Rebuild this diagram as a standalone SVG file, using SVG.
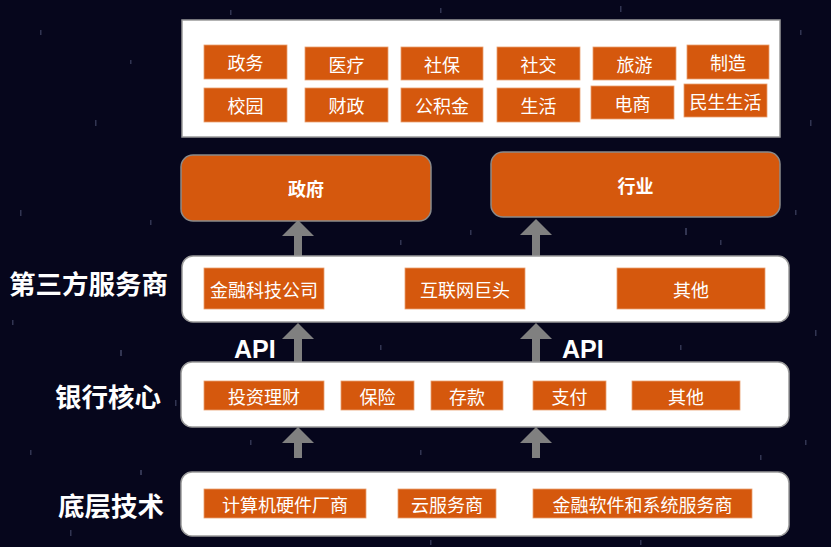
<svg xmlns="http://www.w3.org/2000/svg" width="831" height="547" viewBox="0 0 831 547">
<defs>
<style>
.bg{fill:#06061c}
.star{fill:#8890b8;opacity:.35}
.panel{fill:#ffffff;stroke:#9a9a9a;stroke-width:1.5}
.cell{fill:#D5580D;stroke:#e9a070;stroke-width:0.8}
.big{fill:#D5580D;stroke:#8a8a8a;stroke-width:1.5}
.ct{font-family:"Noto Sans CJK SC","Noto Sans",sans-serif;font-size:18px;fill:#ffffff;text-anchor:middle;dominant-baseline:central}
.bt{font-family:"Noto Sans CJK SC","Noto Sans",sans-serif;font-size:18px;font-weight:bold;fill:#ffffff;text-anchor:middle;dominant-baseline:central}
.lt{font-family:"Noto Sans CJK SC","Noto Sans",sans-serif;font-size:26.5px;font-weight:bold;fill:#ffffff;text-anchor:end;dominant-baseline:central}
.api{font-family:"Liberation Sans",Arial,sans-serif;font-size:25px;font-weight:bold;fill:#ffffff}
.arr{fill:#808080}
</style>
</defs>
<rect class="bg" x="0" y="0" width="831" height="547"/>
<g id="stars">
<rect class="star" x="40" y="30" width="1.5" height="5"/>
<rect class="star" x="95" y="120" width="1.5" height="6"/>
<rect class="star" x="130" y="60" width="1.5" height="4"/>
<rect class="star" x="20" y="210" width="1.5" height="6"/>
<rect class="star" x="150" y="220" width="1.5" height="5"/>
<rect class="star" x="120" y="350" width="2" height="6"/>
<rect class="star" x="12" y="320" width="1.5" height="5"/>
<rect class="star" x="175" y="400" width="1.5" height="6"/>
<rect class="star" x="30" y="450" width="1.5" height="5"/>
<rect class="star" x="140" y="470" width="2" height="5"/>
<rect class="star" x="70" y="530" width="1.5" height="6"/>
<rect class="star" x="230" y="10" width="1.5" height="5"/>
<rect class="star" x="440" y="8" width="1.5" height="5"/>
<rect class="star" x="620" y="6" width="1.5" height="6"/>
<rect class="star" x="800" y="30" width="1.5" height="5"/>
<rect class="star" x="810" y="120" width="1.5" height="6"/>
<rect class="star" x="795" y="210" width="1.5" height="5"/>
<rect class="star" x="685" y="228" width="2" height="7"/>
<rect class="star" x="720" y="240" width="1.5" height="5"/>
<rect class="star" x="400" y="240" width="1.5" height="5"/>
<rect class="star" x="470" y="230" width="1.5" height="5"/>
<rect class="star" x="815" y="330" width="1.5" height="6"/>
<rect class="star" x="805" y="440" width="1.5" height="5"/>
<rect class="star" x="760" y="455" width="1.5" height="5"/>
<rect class="star" x="420" y="450" width="1.5" height="5"/>
<rect class="star" x="380" y="345" width="1.5" height="5"/>
<rect class="star" x="680" y="345" width="1.5" height="5"/>
<rect class="star" x="250" y="440" width="1.5" height="5"/>
<rect class="star" x="430" y="540" width="1.5" height="5"/>
<rect class="star" x="640" y="540" width="1.5" height="5"/>
</g>
<g id="layer-labels">
<text class="lt" x="168" y="282">第三方服务商</text>
<text class="lt" x="161" y="395">银行核心</text>
<text class="lt" x="164" y="504">底层技术</text>
</g>
<g id="connectors">
<path class="arr" d="M298,220 L314,236 L302,236 L302,260 L294,260 L294,236 L282,236 Z"/>
<path class="arr" d="M536,219 L552,235 L540,235 L540,259 L532,259 L532,235 L520,235 Z"/>
<path class="arr" d="M298,323 L314,339 L302,339 L302,363 L294,363 L294,339 L282,339 Z"/>
<path class="arr" d="M536,323 L552,339 L540,339 L540,363 L532,363 L532,339 L520,339 Z"/>
<path class="arr" d="M298,427 L314,443 L302,443 L302,458 L294,458 L294,443 L282,443 Z"/>
<path class="arr" d="M536,427 L552,443 L540,443 L540,458 L532,458 L532,443 L520,443 Z"/>
<text class="api" x="234" y="358">API</text>
<text class="api" x="562" y="358">API</text>
</g>
<g id="industries">
<rect class="panel" x="182" y="20" width="598" height="117"/>
<rect class="cell" x="204" y="45" width="83" height="34"/><text class="ct" x="245.5" y="62">政务</text>
<rect class="cell" x="305" y="47" width="83" height="33"/><text class="ct" x="346.5" y="63.5">医疗</text>
<rect class="cell" x="401" y="47" width="82" height="33"/><text class="ct" x="442" y="63.5">社保</text>
<rect class="cell" x="497" y="47" width="83" height="33"/><text class="ct" x="538.5" y="63.5">社交</text>
<rect class="cell" x="593" y="47" width="83" height="33"/><text class="ct" x="634.5" y="63.5">旅游</text>
<rect class="cell" x="687" y="45" width="82" height="34"/><text class="ct" x="728" y="62">制造</text>
<rect class="cell" x="204" y="88" width="83" height="34"/><text class="ct" x="245.5" y="105">校园</text>
<rect class="cell" x="305" y="88" width="83" height="34"/><text class="ct" x="346.5" y="105">财政</text>
<rect class="cell" x="401" y="88" width="82" height="34"/><text class="ct" x="442" y="105">公积金</text>
<rect class="cell" x="497" y="88" width="83" height="34"/><text class="ct" x="538.5" y="105">生活</text>
<rect class="cell" x="591" y="86" width="83" height="33"/><text class="ct" x="632.5" y="102.5">电商</text>
<rect class="cell" x="684" y="84" width="83" height="33"/><text class="ct" x="725.5" y="100.5">民生生活</text>
</g>
<g id="gov">
<rect class="big" x="181" y="155" width="250" height="66" rx="12"/>
<text class="bt" x="306" y="188">政府</text>
</g>
<g id="industry">
<rect class="big" x="491" y="152" width="289" height="65" rx="12"/>
<text class="bt" x="635.5" y="184.5">行业</text>
</g>
<g id="third-party">
<rect class="panel" x="182" y="256" width="607" height="66" rx="11"/>
<rect class="cell" x="204" y="268" width="120" height="41"/><text class="ct" x="264" y="288.5">金融科技公司</text>
<rect class="cell" x="405" y="268" width="120" height="41"/><text class="ct" x="465" y="288.5">互联网巨头</text>
<rect class="cell" x="617" y="268" width="148" height="41"/><text class="ct" x="691" y="288.5">其他</text>
</g>
<g id="bank-core">
<rect class="panel" x="181" y="362" width="608" height="65" rx="11"/>
<rect class="cell" x="204" y="381" width="120" height="29"/><text class="ct" x="264" y="395.5">投资理财</text>
<rect class="cell" x="341" y="381" width="73" height="29"/><text class="ct" x="377.5" y="395.5">保险</text>
<rect class="cell" x="431" y="381" width="72" height="29"/><text class="ct" x="467" y="395.5">存款</text>
<rect class="cell" x="533" y="381" width="73" height="29"/><text class="ct" x="569.5" y="395.5">支付</text>
<rect class="cell" x="632" y="381" width="108" height="29"/><text class="ct" x="686" y="395.5">其他</text>
</g>
<g id="base-tech">
<rect class="panel" x="181" y="472" width="608" height="64" rx="11"/>
<rect class="cell" x="204" y="489" width="162" height="29"/><text class="ct" x="285" y="503.5">计算机硬件厂商</text>
<rect class="cell" x="398" y="489" width="98" height="29"/><text class="ct" x="447" y="503.5">云服务商</text>
<rect class="cell" x="533" y="489" width="219" height="29"/><text class="ct" x="642.5" y="503.5">金融软件和系统服务商</text>
</g>
</svg>
